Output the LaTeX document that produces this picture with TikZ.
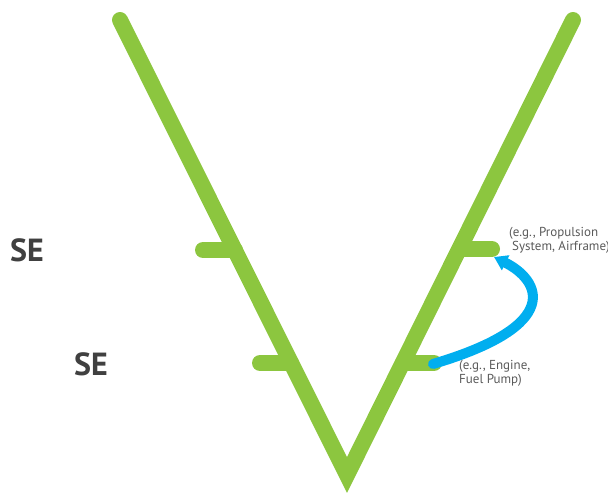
\documentclass[tikz,border=0pt]{standalone}
\usepackage{fontspec}
\setmainfont{PT Sans}
\usetikzlibrary{arrows.meta,positioning,calc}

\definecolor{vgreen}{HTML}{8CC63F}
\definecolor{flowblue}{HTML}{00AEEF}
\definecolor{segray}{HTML}{404040}
\definecolor{notegray}{HTML}{5A5A5A}

\begin{document}
\begin{tikzpicture}[x=1pt, y=-1pt,
    arm/.style={draw=vgreen, line width=16pt, line cap=round, line join=miter},
    tick/.style={draw=vgreen, line width=16pt, line cap=round},
    flow/.style={draw=flowblue, line width=10pt, line cap=round, -{Triangle[length=13pt, width=16pt]}},
    selabel/.style={text=segray, font=\bfseries\fontsize{32}{36}\selectfont, inner sep=0pt},
    note/.style={text=notegray, font=\fontsize{13}{14.5}\selectfont, align=left, inner sep=0pt, anchor=north west},
]
\useasboundingbox (0,0) rectangle (608,494);

% V shape
\coordinate (vtopl) at (120,20);
\coordinate (vtip) at (347,475);
\coordinate (vtopr) at (573,20);

% Ticks
\coordinate (ltickup) at (203,250);
\coordinate (ltickupa) at (235,250);
\coordinate (lticklo) at (260,363);
\coordinate (lticklob) at (291,363);
\coordinate (rtickup) at (492,249);
\coordinate (rtickupa) at (460,249);
\coordinate (rticklo) at (434,363);
\coordinate (rticklob) at (403,363);

\draw[tick] (ltickup) -- (ltickupa);
\draw[tick] (lticklo) -- (lticklob);
\draw[tick] (rtickup) -- (rtickupa);
\draw[tick] (rticklo) -- (rticklob);
\draw[arm] (vtopl) -- (vtip) -- (vtopr);

% Labels
\node[selabel] (seup) at (27,250) {SE};
\node[selabel] (selo) at (91,364) {SE};

\node[note] (noteup) at (509,227) {(e.g., Propulsion\\\hspace{3pt}System, Airframe)};
\node[note] (notelo) at (459,360) {(e.g., Engine,\\Fuel Pump)};

% Flow arrow
\coordinate (flowstart) at (433,364);
\coordinate (flowend) at (494,257);
\draw[flow] (flowstart) .. controls (565,325) and (540,280) .. (flowend);

\end{tikzpicture}
\end{document}
